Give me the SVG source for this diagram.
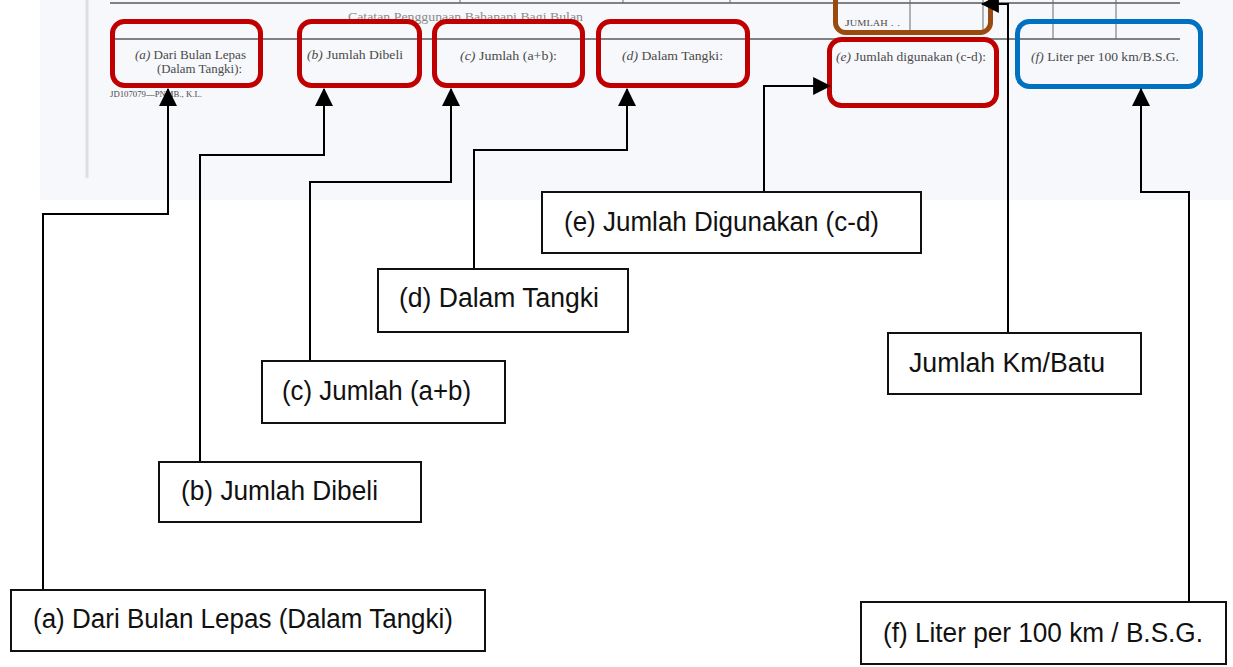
<svg xmlns="http://www.w3.org/2000/svg" width="1233" height="667" viewBox="0 0 1233 667">
<style>
.scanline{stroke:#5a5a5a;stroke-width:1.3;fill:none}
.scanv{stroke:#6a6a6a;stroke-width:1;fill:none}
.form{font-family:"Liberation Serif","Times New Roman",serif;font-size:12px;fill:#4a4a4a}
.form .i{font-style:italic}
.hl{fill:none;stroke-width:5}
.red{stroke:#c00000}
.blue{stroke:#0070c0}
.brown{stroke:#9a4a0e}
.lbox{fill:#ffffff;stroke:#111111;stroke-width:2}
.ltext{font-family:"Liberation Sans Narrow","Liberation Sans",Arial,sans-serif;font-size:27px;fill:#111111}
.conn{fill:none;stroke:#000000;stroke-width:2}
</style>
<defs>
<marker id="arr" markerUnits="userSpaceOnUse" markerWidth="18" markerHeight="18" viewBox="0 0 16 16" refX="15" refY="8" orient="auto">
<path d="M0,0 L16,8 L0,16 Z" fill="#000000"/>
</marker>
</defs>
<rect width="1233" height="667" fill="#ffffff"/>
<g id="scan">
<rect x="40" y="0" width="1193" height="200" fill="#f7f8fb"/>
<line x1="87" y1="0" x2="87" y2="178" stroke="#dedee3" stroke-width="3"/>
<line class="scanline" x1="110" y1="3" x2="1180" y2="3"/>
<line class="scanline" x1="110" y1="39" x2="1180" y2="39" stroke-width="1.6"/>
<line class="scanv" x1="460" y1="0" x2="460" y2="3"/>
<line class="scanv" x1="623" y1="0" x2="623" y2="3"/>
<line class="scanv" x1="730" y1="0" x2="730" y2="3"/>
<line class="scanv" x1="910" y1="0" x2="910" y2="32"/>
<line class="scanv" x1="983" y1="0" x2="983" y2="32"/>
<line class="scanv" x1="1053" y1="0" x2="1053" y2="39"/>
<line class="scanv" x1="1116" y1="0" x2="1116" y2="39"/>
<text class="form" x="348" y="21" textLength="235" lengthAdjust="spacingAndGlyphs" style="fill:#8a8a8a">Catatan Penggunaan Bahanapi Bagi Bulan</text>
<text class="form" x="110" y="97" style="font-size:7.5px" textLength="92" lengthAdjust="spacingAndGlyphs">JD107079—PNMB., K.L.</text>
</g>
<g id="form-a">
<text class="form" x="135" y="59" textLength="111" lengthAdjust="spacingAndGlyphs"><tspan class="i">(a)</tspan>  Dari Bulan Lepas</text>
<text class="form" x="157" y="73" textLength="85" lengthAdjust="spacingAndGlyphs">(Dalam Tangki):</text>
<rect class="hl red" x="112.5" y="21.5" width="148" height="64" rx="12"/>
</g>
<g id="form-b">
<text class="form" x="307" y="59" textLength="96" lengthAdjust="spacingAndGlyphs"><tspan class="i">(b)</tspan>  Jumlah Dibeli</text>
<rect class="hl red" x="299.5" y="21.5" width="120" height="64" rx="12"/>
</g>
<g id="form-c">
<text class="form" x="460" y="60" textLength="97" lengthAdjust="spacingAndGlyphs"><tspan class="i">(c)</tspan>  Jumlah (a+b):</text>
<rect class="hl red" x="434.5" y="21.5" width="148" height="64" rx="12"/>
</g>
<g id="form-d">
<text class="form" x="622" y="60" textLength="101" lengthAdjust="spacingAndGlyphs"><tspan class="i">(d)</tspan>  Dalam Tangki:</text>
<rect class="hl red" x="598.5" y="21.5" width="149" height="64" rx="12"/>
</g>
<g id="form-jumlah">
<text class="form" x="845" y="26" style="font-size:9px" textLength="55" lengthAdjust="spacingAndGlyphs">J<tspan style="font-size:7.5px">UMLAH</tspan> . .</text>
<rect class="hl brown" x="835.5" y="-20" width="155" height="52.5" rx="10"/>
</g>
<g id="form-e">
<text class="form" x="836" y="61" textLength="150" lengthAdjust="spacingAndGlyphs"><tspan class="i">(e)</tspan>  Jumlah digunakan (c-d):</text>
<rect class="hl red" x="829.5" y="39.5" width="167" height="66" rx="12"/>
</g>
<g id="form-f">
<text class="form" x="1031" y="61" textLength="148" lengthAdjust="spacingAndGlyphs"><tspan class="i">(f)</tspan>  Liter per 100 km/B.S.G.</text>
<rect class="hl blue" x="1017.5" y="21.5" width="183" height="65" rx="12"/>
</g>
<g id="connectors">
<polyline class="conn" points="43,590 43,214 168,214 168,89" marker-end="url(#arr)"/>
<polyline class="conn" points="200,462 200,155 324,155 324,89" marker-end="url(#arr)"/>
<polyline class="conn" points="310,361 310,182 451,182 451,89" marker-end="url(#arr)"/>
<polyline class="conn" points="474,269 474,150 627,150 627,89" marker-end="url(#arr)"/>
<polyline class="conn" points="764,192 764,86 830,86" marker-end="url(#arr)"/>
<polyline class="conn" points="1008,333 1008,4 982,4" marker-end="url(#arr)"/>
<polyline class="conn" points="1189,602 1189,192 1141,192 1141,89" marker-end="url(#arr)"/>
</g>
<g id="label-e">
<rect class="lbox" x="542" y="192" width="379" height="61"/>
<text class="ltext" x="564" y="231" textLength="315" lengthAdjust="spacingAndGlyphs">(e) Jumlah Digunakan (c-d)</text>
</g>
<g id="label-d">
<rect class="lbox" x="378" y="269" width="250" height="63"/>
<text class="ltext" x="399" y="307" textLength="200" lengthAdjust="spacingAndGlyphs">(d) Dalam Tangki</text>
</g>
<g id="label-c">
<rect class="lbox" x="262" y="361" width="243" height="62"/>
<text class="ltext" x="282" y="400" textLength="189" lengthAdjust="spacingAndGlyphs">(c) Jumlah (a+b)</text>
</g>
<g id="label-b">
<rect class="lbox" x="159" y="462" width="262" height="60"/>
<text class="ltext" x="181" y="500" textLength="197" lengthAdjust="spacingAndGlyphs">(b) Jumlah Dibeli</text>
</g>
<g id="label-a">
<rect class="lbox" x="11" y="590" width="474" height="61"/>
<text class="ltext" x="33" y="628" textLength="420" lengthAdjust="spacingAndGlyphs">(a) Dari Bulan Lepas (Dalam Tangki)</text>
</g>
<g id="label-km">
<rect class="lbox" x="888" y="333" width="253" height="61"/>
<text class="ltext" x="909" y="372" textLength="196" lengthAdjust="spacingAndGlyphs">Jumlah Km/Batu</text>
</g>
<g id="label-f">
<rect class="lbox" x="861" y="602" width="365" height="62"/>
<text class="ltext" x="883" y="642" textLength="320" lengthAdjust="spacingAndGlyphs">(f) Liter per 100 km / B.S.G.</text>
</g>
</svg>
